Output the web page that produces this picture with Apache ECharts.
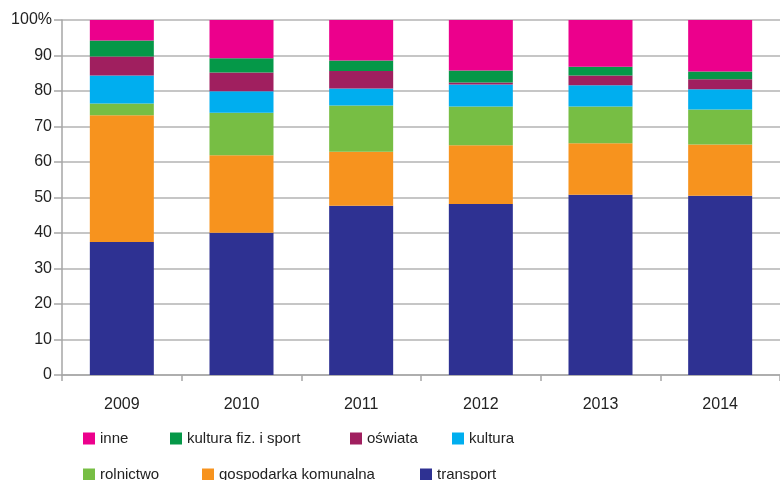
<!DOCTYPE html>
<html>
<head>
<meta charset="utf-8">
<script src="https://cdn.jsdelivr.net/npm/echarts@6/dist/echarts.min.js"></script>
<style>
  html, body { margin: 0; padding: 0; background: #fff; }
  #main { width: 780px; height: 480px; }
</style>
</head>
<body>
<div id="main"></div>
<script>
// dane (udział % w wydatkach), od dołu stosu
const years = ['2009', '2010', '2011', '2012', '2013', '2014']
const transport = [37.5, 40.1, 47.7, 48.2, 50.8, 50.5]
const gospodarka = [35.7, 21.8, 15.2, 16.5, 14.5, 14.4]
const rolnictwo = [3.3, 12.0, 13.0, 10.9, 10.3, 9.9]
const kultura = [7.9, 6.0, 4.8, 6.2, 6.0, 5.7]
const oswiata = [5.3, 5.3, 4.9, 0.6, 2.8, 2.8]
const sport = [4.5, 4.0, 3.0, 3.4, 2.4, 2.2]
const inne = [5.8, 10.8, 11.4, 14.2, 13.2, 14.5]

const font = "'Liberation Sans Narrow', 'Liberation Sans', sans-serif"

const seriesDefs = [
  { name: 'transport', data: transport, color: '#2E3192' },
  { name: 'gospodarka komunalna', data: gospodarka, color: '#F7931E' },
  { name: 'rolnictwo', data: rolnictwo, color: '#77BE44' },
  { name: 'kultura', data: kultura, color: '#00AEEF' },
  { name: 'oświata', data: oswiata, color: '#A01F5F' },
  { name: 'kultura fiz. i sport', data: sport, color: '#059848' },
  { name: 'inne', data: inne, color: '#EC008C' }
]

// pozycje legendy (dwa wiersze)
const legendPos = [
  { name: 'inne', left: 78, top: 426 },
  { name: 'kultura fiz. i sport', left: 165, top: 426 },
  { name: 'oświata', left: 345, top: 426 },
  { name: 'kultura', left: 447, top: 426 },
  { name: 'rolnictwo', left: 78, top: 462 },
  { name: 'gospodarka komunalna', left: 197, top: 462 },
  { name: 'transport', left: 415, top: 462 }
]

const chart = echarts.init(document.getElementById('main'))

chart.setOption({
  animation: false,
  textStyle: { fontFamily: font },
  grid: { left: 62, right: 0, top: 20, bottom: 105 },
  legend: legendPos.map(p => ({
    data: [p.name],
    left: p.left,
    top: p.top,
    itemWidth: 12,
    itemHeight: 12,
    itemGap: 0,
    icon: 'rect',
    textStyle: { fontFamily: font, fontSize: 15, color: '#222' }
  })),
  xAxis: {
    type: 'category',
    data: years,
    axisLine: { lineStyle: { color: '#a6a6a6', width: 1.5 } },
    axisTick: { show: true, length: 6, lineStyle: { color: '#a6a6a6', width: 1.5 } },
    axisLabel: { fontFamily: font, fontSize: 16, color: '#222', margin: 22 }
  },
  yAxis: {
    type: 'value',
    min: 0,
    max: 100,
    interval: 10,
    axisLine: { show: true, lineStyle: { color: '#a6a6a6', width: 1.5 } },
    axisTick: { show: true, length: 8, inside: false, lineStyle: { color: '#a6a6a6', width: 1.5 } },
    axisLabel: {
      fontFamily: font, fontSize: 16, color: '#222', margin: 10,
      formatter: v => (v === 100 ? '100%' : String(v))
    },
    splitLine: { lineStyle: { color: '#b3b3b3', width: 1.5 } }
  },
  series: seriesDefs.map(s => ({
    name: s.name,
    type: 'bar',
    stack: 'total',
    barWidth: 64,
    itemStyle: { color: s.color },
    data: s.data
  }))
})
</script>
</body>
</html>
